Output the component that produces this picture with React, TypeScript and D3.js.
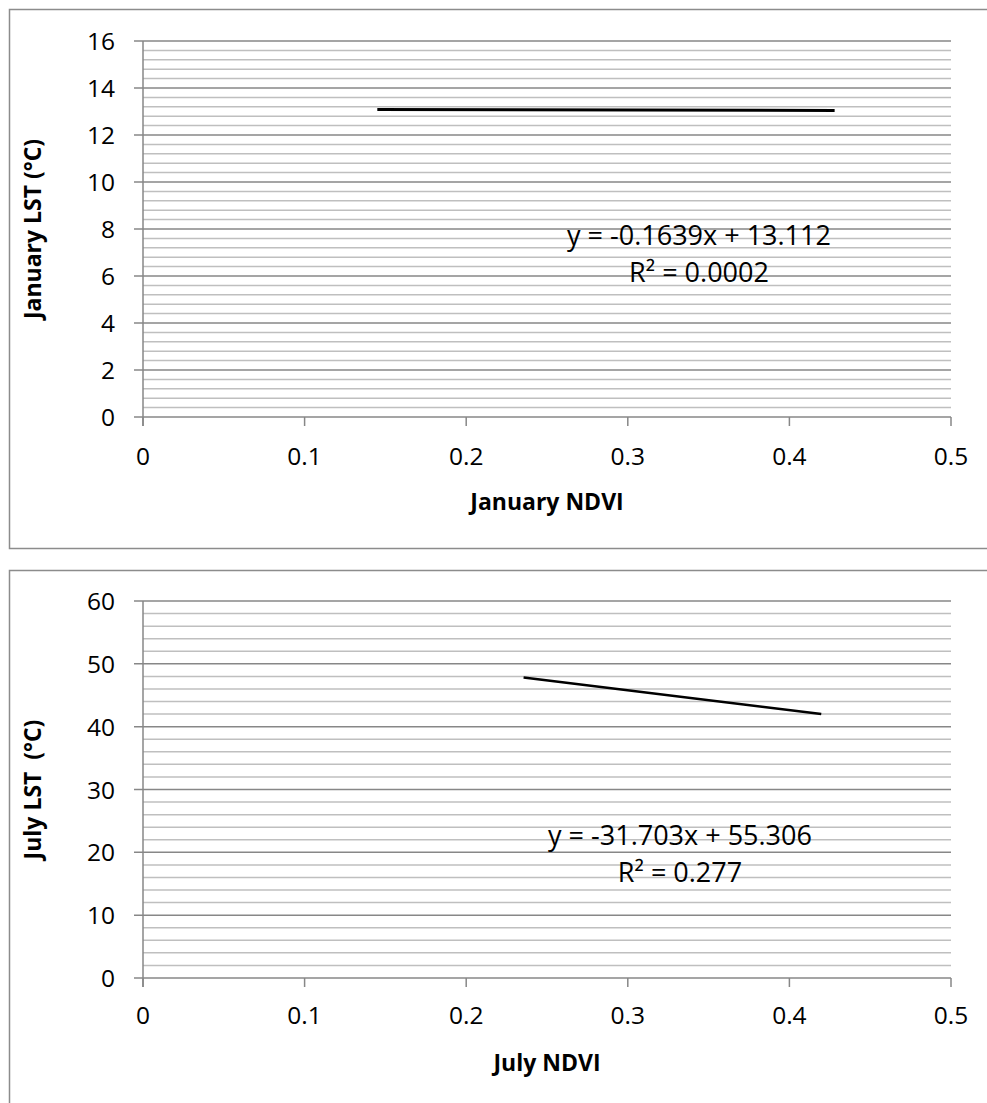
import React from "react";
import * as d3 from "d3";

const xTicks = [0, 0.1, 0.2, 0.3, 0.4, 0.5];
const xTickLabels = ["0", "0.1", "0.2", "0.3", "0.4", "0.5"];

const janYTicks = [0, 2, 4, 6, 8, 10, 12, 14, 16];
const janTrendX = [0.145, 0.428];
const janTrendY = [13.088, 13.042];
const janEquation = ["y = -0.1639x + 13.112", "R² = 0.0002"];

const julYTicks = [0, 10, 20, 30, 40, 50, 60];
const julTrendX = [0.2355, 0.4197];
const julTrendY = [47.84, 42.0];
const julEquation = ["y = -31.703x + 55.306", "R² = 0.277"];

const FONT = "'Open Sans', 'Liberation Sans', sans-serif";

type PanelProps = {
  top: number;
  frameBottom: number;
  plotTop: number;
  plotBottom: number;
  yMax: number;
  yTicks: number[];
  minorStep: number;
  trendX: number[];
  trendY: number[];
  equation: string[];
  eqX: number;
  eqY: number;
  xTitle: string;
  yTitle: string;
  lineWidth: number;
  xLabelDy: number;
};

function Panel(p: PanelProps) {
  const x = d3.scaleLinear().domain([0, 0.5]).range([143, 951]);
  const y = d3.scaleLinear().domain([0, p.yMax]).range([p.plotBottom, p.plotTop]);
  const minors = d3.range(0, p.yMax + 1e-9, p.minorStep).filter(
    (v) => !p.yTicks.some((t) => Math.abs(t - v) < 1e-9)
  );
  const pts: [number, number][] = p.trendX.map((v, i) => [v, p.trendY[i]]);
  const line = d3
    .line<[number, number]>()
    .x((d) => x(d[0]))
    .y((d) => y(d[1]));
  const midY = (p.plotTop + p.plotBottom) / 2;
  return (
    <g>
      <rect
        x={9.5}
        y={p.top + 0.5}
        width={990}
        height={p.frameBottom - p.top}
        fill="white"
        stroke="#8c8c8c"
        strokeWidth={1.5}
      />
      {minors.map((v) => (
        <line key={"m" + v} x1={143} x2={951} y1={y(v)} y2={y(v)} stroke="#bfbfbf" strokeWidth={1.5} />
      ))}
      {p.yTicks.map((v) => (
        <line key={"M" + v} x1={134} x2={951} y1={y(v)} y2={y(v)} stroke="#878787" strokeWidth={1.5} />
      ))}
      <line x1={143} x2={143} y1={p.plotTop} y2={p.plotBottom + 9} stroke="#878787" strokeWidth={1.5} />
      {xTicks.map((v) => (
        <line key={"xt" + v} x1={x(v)} x2={x(v)} y1={p.plotBottom} y2={p.plotBottom + 9} stroke="#878787" strokeWidth={1.5} />
      ))}
      {p.yTicks.map((v) => (
        <text key={"yl" + v} x={115} y={y(v) + 9} textAnchor="end" fontFamily={FONT} fontSize={24.5} fill="#000">
          {String(v)}
        </text>
      ))}
      {xTicks.map((v, i) => (
        <text key={"xl" + v} x={x(v)} y={p.plotBottom + p.xLabelDy} textAnchor="middle" fontFamily={FONT} fontSize={24.5} fill="#000">
          {xTickLabels[i]}
        </text>
      ))}
      <path d={line(pts) || ""} fill="none" stroke="#000" strokeWidth={p.lineWidth} />
      {p.equation.map((s, i) => (
        <text key={"eq" + i} x={p.eqX} y={p.eqY + i * 37} textAnchor="middle" fontFamily={FONT} fontSize={27} fill="#000">
          {s}
        </text>
      ))}
      <text x={547} y={p.plotBottom + 93} textAnchor="middle" fontFamily={FONT} fontSize={23} fontWeight="bold" fill="#000">
        {p.xTitle}
      </text>
      <text
        transform={`translate(41,${midY}) rotate(-90)`}
        textAnchor="middle"
        fontFamily={FONT}
        fontSize={23}
        fontWeight="bold"
        fill="#000"
        style={{ whiteSpace: "pre" }}
      >
        {p.yTitle}
      </text>
    </g>
  );
}

export default function App() {
  return (
    <svg
      width={987}
      height={1103}
      style={{ position: "absolute", left: 0, top: 0, background: "white" }}
    >
      <rect x={0} y={0} width={987} height={1103} fill="white" />
      <Panel
        top={9}
        frameBottom={548}
        plotTop={41}
        plotBottom={417}
        yMax={16}
        yTicks={janYTicks}
        minorStep={0.4}
        trendX={janTrendX}
        trendY={janTrendY}
        equation={janEquation}
        eqX={699}
        eqY={245}
        xTitle="January NDVI"
        yTitle="January LST (°C)"
        lineWidth={3}
        xLabelDy={48}
      />
      <Panel
        top={570}
        frameBottom={1120}
        plotTop={601}
        plotBottom={978}
        yMax={60}
        yTicks={julYTicks}
        minorStep={2}
        trendX={julTrendX}
        trendY={julTrendY}
        equation={julEquation}
        eqX={680}
        eqY={845}
        xTitle="July NDVI"
        yTitle="July LST  (°C)"
        lineWidth={2.5}
        xLabelDy={46}
      />
    </svg>
  );
}
